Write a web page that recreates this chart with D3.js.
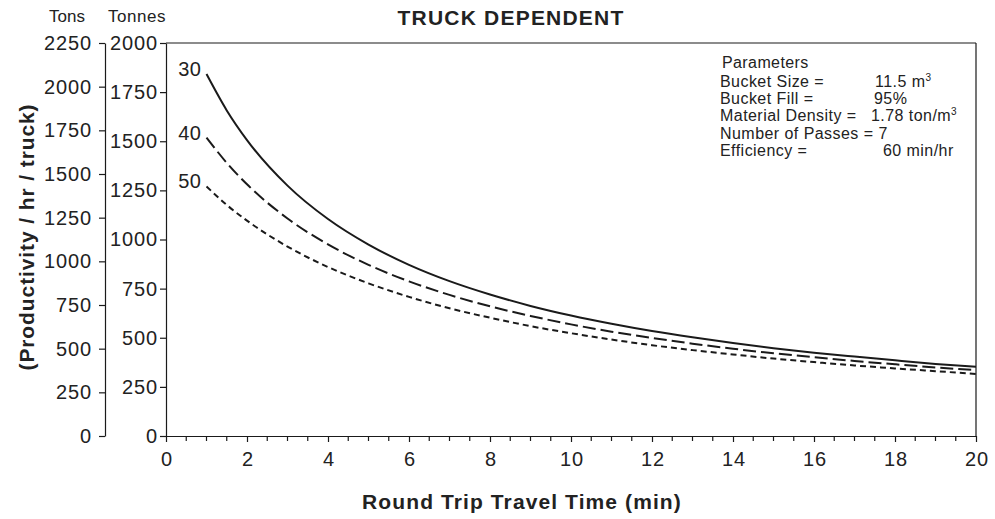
<!DOCTYPE html>
<html><head><meta charset="utf-8">
<script src="https://cdn.jsdelivr.net/npm/d3@7"></script>
<style>
body{margin:0;background:#fff;}
text{font-family:"Liberation Sans",Arial,Helvetica,sans-serif;fill:#222;}
</style></head>
<body><svg id="c" width="995" height="519"></svg>
<script>
const travelTime = [1,1.5,2,3,4,5,6,7,8,9,10,11,12,13,14,15,16,17,18,19,20];
const series30 = [1842,1657,1506,1274,1104,974,871,788,720,662,613,571,534,502,473,447,424,404,385,367,352];
const series40 = [1519,1390,1281,1107,975,871,787,718,660,611,568,531,499,470,444,421,401,382,365,349,335];
const series50 = [1270,1176,1096,964,860,777,708,650,602,559,523,491,462,437,415,394,376,359,344,330,316];
const seriesNames = ["30","40","50"];
const tonnesTicks = [0,250,500,750,1000,1250,1500,1750,2000];
const tonsTicks = [0,250,500,750,1000,1250,1500,1750,2000,2250];
const xTicks = [0,2,4,6,8,10,12,14,16,18,20];
const paramLabels = ["Bucket Size =","Bucket Fill =","Material Density =","Number of Passes = 7","Efficiency ="];
const paramValues = [["11.5 m","3"],["95%",""],["1.78 ton/m","3"],["",""],["60 min/hr",""]];

const svg = d3.select("#c");
const L=166,R=976,T=43,B=436;
const x = d3.scaleLinear().domain([0,20]).range([L,R]);
const y = d3.scaleLinear().domain([0,2000]).range([B,T]);
const yTons = d3.scaleLinear().domain([0,2250]).range([B,T]);
const ink="#1a1a1a";

// frame top and right
svg.append("line").attr("x1",L).attr("x2",R).attr("y1",T).attr("y2",T).attr("stroke",ink).attr("stroke-width",1.2);
svg.append("line").attr("x1",R).attr("x2",R).attr("y1",T).attr("y2",B).attr("stroke",ink).attr("stroke-width",1.2);

function styleAxis(g){
  g.selectAll("path,line").attr("stroke",ink).attr("stroke-width",1.2);
  g.selectAll("text").attr("font-size",20).attr("letter-spacing","0.9px").attr("fill","#222").attr("font-family","Liberation Sans, Arial, sans-serif");
}
// tonnes axis
const gT = svg.append("g").attr("transform",`translate(${L},0)`)
  .call(d3.axisLeft(y).tickValues(tonnesTicks).tickSize(6).tickSizeOuter(0).tickPadding(2).tickFormat(d3.format("d")));
styleAxis(gT);
// tons axis
const gTons = svg.append("g").attr("transform",`translate(105,0)`)
  .call(d3.axisLeft(yTons).tickValues(tonsTicks).tickSize(6).tickSizeOuter(0).tickPadding(7).tickFormat(d3.format("d")));
styleAxis(gTons);
// x axis
const gX = svg.append("g").attr("transform",`translate(0,${B})`)
  .call(d3.axisBottom(x).tickValues(xTicks).tickSize(6).tickSizeOuter(0).tickPadding(10).tickFormat(d3.format("d")));
styleAxis(gX);
gX.selectAll("text").attr("dx","0.45px");
gX.selectAll(".minor").data(d3.range(0,20.01,0.5).filter(v=>v%2!==0)).enter().append("line")
  .attr("x1",d=>x(d)).attr("x2",d=>x(d)).attr("y1",0).attr("y2",5).attr("stroke",ink).attr("stroke-width",1.2);

// axis unit labels
svg.append("text").attr("x",67).attr("y",22).attr("text-anchor","middle").attr("font-size",17).text("Tons");
svg.append("text").attr("x",137).attr("y",22).attr("text-anchor","middle").attr("font-size",17).attr("letter-spacing","0.5px").text("Tonnes");

// title
svg.append("text").attr("x",511).attr("y",25).attr("text-anchor","middle").attr("font-size",21).attr("letter-spacing","1.2px").attr("font-weight","bold").text("TRUCK DEPENDENT");
// x title
svg.append("text").attr("x",522).attr("y",509).attr("text-anchor","middle").attr("font-size",21).attr("letter-spacing","1.1px").attr("font-weight","bold").text("Round Trip Travel Time (min)");
// y title
svg.append("text").attr("transform","translate(34,237) rotate(-90)").attr("text-anchor","middle").attr("font-size",21).attr("letter-spacing","0.9px").attr("font-weight","bold").text("(Productivity / hr / truck)");

// curves
const allSeries=[series30,series40,series50];
const dashes=[null,"13,5","6,4"];
const line = d3.line().x((d,i)=>x(travelTime[i])).y(d=>y(d)).curve(d3.curveMonotoneX);
allSeries.forEach((s,k)=>{
  svg.append("path").datum(s).attr("d",line).attr("fill","none").attr("stroke",ink).attr("stroke-width",2)
    .attr("stroke-dasharray",dashes[k]);
  svg.append("text").attr("x",x(travelTime[0])-5).attr("y",y(s[0])+2).attr("text-anchor","end").attr("font-size",20).attr("letter-spacing","0.5px").text(seriesNames[k]);
});

// parameters
const pg = svg.append("g");
pg.append("text").attr("x",722).attr("y",68).attr("font-size",16).attr("letter-spacing","0.4px").text("Parameters");
const valX=[875,874,871,0,883];
paramLabels.forEach((t,i)=>{
  const yy=86.5+i*17.4;
  pg.append("text").attr("x",720).attr("y",yy).attr("font-size",16).attr("letter-spacing","0.45px").text(t);
  if(paramValues[i][0]){
    const tx=pg.append("text").attr("x",valX[i]).attr("y",yy).attr("font-size",16).attr("letter-spacing","0.45px").text(paramValues[i][0]);
    if(paramValues[i][1]) tx.append("tspan").attr("font-size",10).attr("dy",-6).text(paramValues[i][1]);
  }
});
</script></body></html>
